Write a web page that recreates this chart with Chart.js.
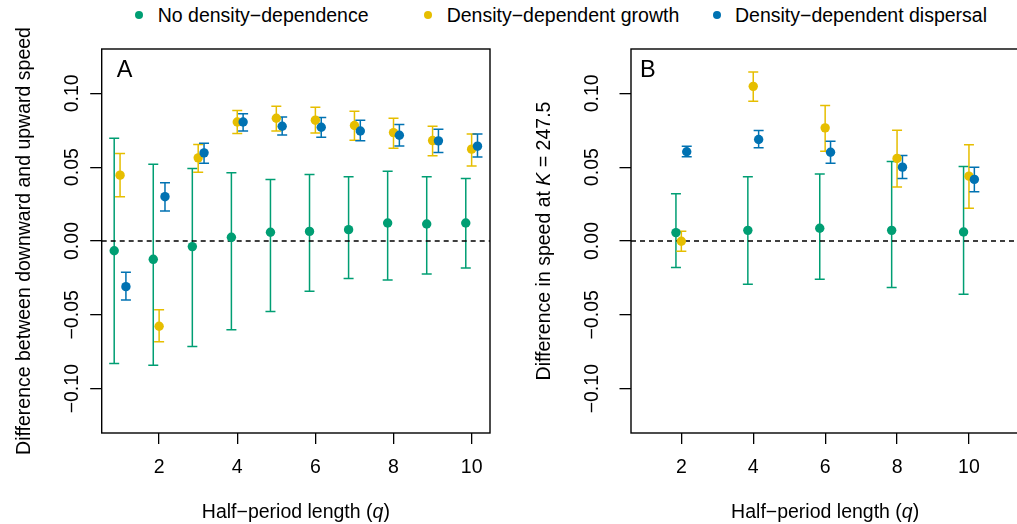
<!DOCTYPE html>
<html>
<head>
<meta charset="utf-8">
<script src="https://cdn.jsdelivr.net/npm/chart.js@4.4.1/dist/chart.umd.min.js"></script>
<style>
  html, body { margin: 0; padding: 0; background: #fff; overflow: hidden; }
  body { width: 1017px; height: 524px; position: relative; font-family: 'Liberation Sans', Arial, sans-serif; }
  #panelA { position: absolute; left: 0; top: 0; }
  #panelB { position: absolute; left: 510px; top: 0; }
  .key { position: absolute; top: 4px; font-size: 19.5px; line-height: 22px; color: #000; white-space: nowrap; }
  .key i { position: absolute; left: -22.5px; top: 7px; width: 8px; height: 8px; border-radius: 50%; }
</style>
</head>
<body>
<div class="key" style="left:157.7px"><i style="background:#009E73"></i>No density−dependence</div>
<div class="key" style="left:446.7px"><i style="background:#E6BE00"></i>Density−dependent growth</div>
<div class="key" style="left:735px"><i style="background:#0072B2"></i>Density−dependent dispersal</div>
<canvas id="panelA" width="510" height="524"></canvas>
<canvas id="panelB" width="512" height="524"></canvas>
<script>
// tick marks and labels
const xTicks = [2, 4, 6, 8, 10];
const yTicks = [-0.10, -0.05, 0.00, 0.05, 0.10];
const yTickLabels = ['−0.10', '−0.05', '0.00', '0.05', '0.10'];

// panel A: difference between downward and upward speed
const qA = [1, 2, 3, 4, 5, 6, 7, 8, 9, 10];
const noDD_A    = [-0.0066, -0.0124, -0.0038, 0.0025, 0.0059, 0.0065, 0.0077, 0.0122, 0.0115, 0.0122];
const noDD_A_lo = [-0.0829, -0.0842, -0.0714, -0.0601, -0.0477, -0.0340, -0.0254, -0.0264, -0.0223, -0.0182];
const noDD_A_hi = [0.0696, 0.0520, 0.0491, 0.0462, 0.0417, 0.0450, 0.0435, 0.0473, 0.0435, 0.0423];
const growth_A    = [0.0446, -0.0577, 0.0563, 0.0806, 0.0831, 0.0818, 0.0782, 0.0734, 0.0680, 0.0622];
const growth_A_lo = [0.0300, -0.0682, 0.0466, 0.0728, 0.0745, 0.0732, 0.0682, 0.0628, 0.0577, 0.0507];
const growth_A_hi = [0.0592, -0.0466, 0.0653, 0.0883, 0.0912, 0.0905, 0.0878, 0.0831, 0.0777, 0.0725];
const disp_A    = [-0.0309, 0.0300, 0.0597, 0.0806, 0.0777, 0.0770, 0.0745, 0.0716, 0.0678, 0.0642];
const disp_A_lo = [-0.0399, 0.0203, 0.0527, 0.0745, 0.0718, 0.0703, 0.0678, 0.0644, 0.0599, 0.0568];
const disp_A_hi = [-0.0212, 0.0394, 0.0662, 0.0862, 0.0840, 0.0836, 0.0818, 0.0788, 0.0757, 0.0725];

// panel B: difference in speed at K = 247.5
const qB = [2, 4, 6, 8, 10];
const noDD_B    = [0.0057, 0.0072, 0.0086, 0.0072, 0.0061];
const noDD_B_lo = [-0.0180, -0.0293, -0.0259, -0.0315, -0.0360];
const noDD_B_hi = [0.0320, 0.0435, 0.0453, 0.0539, 0.0505];
const growth_B    = [-0.0002, 0.1047, 0.0766, 0.0559, 0.0439];
const growth_B_lo = [-0.0070, 0.0946, 0.0608, 0.0365, 0.0221];
const growth_B_hi = [0.0066, 0.1144, 0.0917, 0.0750, 0.0651];
const disp_B    = [0.0604, 0.0687, 0.0601, 0.0500, 0.0417];
const disp_B_lo = [0.0570, 0.0631, 0.0527, 0.0424, 0.0334];
const disp_B_hi = [0.0642, 0.0748, 0.0676, 0.0579, 0.0500];

const colNo = '#009E73';
const colGrowth = '#E6BE00';
const colDisp = '#0072B2';
const dodge = 0.15; // side-by-side shift of the three series
const FONT = "'Liberation Sans', Arial, sans-serif";
const FS = 19.5;

function series(q, off, vals, lo, hi, color, order) {
  return {
    type: 'scatter',
    data: q.map((v, i) => ({ x: v + off, y: vals[i] })),
    errLo: lo,
    errHi: hi,
    backgroundColor: color,
    borderColor: color,
    borderWidth: 0,
    pointRadius: 4.7,
    pointHoverRadius: 4.7,
    order: order
  };
}

// draw rotated / mixed italic text centred on a point
function drawRich(ctx, parts, cx, cy, rot) {
  ctx.save();
  ctx.translate(cx, cy);
  ctx.rotate(rot);
  ctx.textBaseline = 'middle';
  ctx.textAlign = 'left';
  ctx.fillStyle = '#000';
  const fontOf = p => (p.italic ? 'italic ' : '') + FS + 'px ' + FONT;
  let total = 0;
  parts.forEach(p => { ctx.font = fontOf(p); total += ctx.measureText(p.text).width; });
  let x = -total / 2;
  parts.forEach(p => {
    ctx.font = fontOf(p);
    ctx.fillText(p.text, x, 0);
    x += ctx.measureText(p.text).width;
  });
  ctx.restore();
}

const errorBars = {
  id: 'errorBars',
  beforeDatasetsDraw(chart) {
    const ctx = chart.ctx, xs = chart.scales.x, ys = chart.scales.y;
    ctx.save();
    ctx.lineWidth = 1.5;
    chart.data.datasets.forEach(ds => {
      if (!ds.errLo) return;
      ctx.strokeStyle = ds.borderColor;
      ds.data.forEach((p, i) => {
        const px = xs.getPixelForValue(p.x);
        const yLo = ys.getPixelForValue(ds.errLo[i]);
        const yHi = ys.getPixelForValue(ds.errHi[i]);
        ctx.beginPath();
        ctx.moveTo(px, yLo); ctx.lineTo(px, yHi);
        ctx.moveTo(px - 5, yLo); ctx.lineTo(px + 5, yLo);
        ctx.moveTo(px - 5, yHi); ctx.lineTo(px + 5, yHi);
        ctx.stroke();
      });
    });
    ctx.restore();
  }
};

const frame = {
  id: 'frame',
  afterDraw(chart, args, opts) {
    const ctx = chart.ctx, a = chart.chartArea;
    ctx.save();
    ctx.strokeStyle = '#000';
    ctx.lineWidth = 1.4;
    ctx.strokeRect(a.left, a.top, a.right - a.left, a.bottom - a.top);
    ctx.fillStyle = '#000';
    ctx.font = '23.5px ' + FONT;
    ctx.textBaseline = 'alphabetic';
    ctx.fillText(opts.letter, a.left + opts.letterDx, a.top + 28.3);
    ctx.restore();
    drawRich(ctx, opts.xTitle, (a.left + a.right) / 2, a.bottom + 80, 0);
    drawRich(ctx, opts.yTitle, a.left - opts.yTitleGap, (a.top + a.bottom) / 2, -Math.PI / 2);
  }
};

// widest y tick label, used to centre the rotated labels
const mctx = document.createElement('canvas').getContext('2d');
mctx.font = FS + 'px ' + FONT;
const widestY = Math.max(...yTickLabels.map(t => mctx.measureText(t).width));

function makePanel(id, p) {
  const tickLen = 11.5;
  return new Chart(document.getElementById(id), {
    data: {
      datasets: [
        series(p.q, -dodge, p.no, p.noLo, p.noHi, colNo, 2),
        series(p.q, 0, p.gr, p.grLo, p.grHi, colGrowth, 1),
        series(p.q, dodge, p.di, p.diLo, p.diHi, colDisp, 0),
        {
          type: 'line',
          data: [{ x: p.xMin, y: 0 }, { x: p.xMax, y: 0 }],
          borderColor: '#000',
          borderWidth: 1.5,
          borderDash: [5, 4],
          pointRadius: 0,
          order: 3
        }
      ]
    },
    options: {
      responsive: false,
      animation: false,
      events: [],
      layout: { autoPadding: false, padding: { left: 0, top: 49, right: p.padRight, bottom: 0 } },
      plugins: {
        legend: { display: false },
        tooltip: { enabled: false },
        frame: { letter: p.letter, letterDx: p.letterDx, xTitle: p.xTitle, yTitle: p.yTitle, yTitleGap: p.yTitleGap }
      },
      scales: {
        x: {
          type: 'linear',
          position: 'bottom',
          min: p.xMin,
          max: p.xMax,
          afterBuildTicks: s => { s.ticks = xTicks.map(v => ({ value: v })); },
          afterFit: s => { s.height = 91; },
          grid: { drawOnChartArea: false, tickLength: 11, color: '#000', lineWidth: 1.3 },
          border: { display: false },
          ticks: { padding: 12.3, color: '#000', font: { family: FONT, size: FS }, minRotation: 0, maxRotation: 0, autoSkip: false }
        },
        y: {
          type: 'linear',
          position: 'left',
          min: -0.13,
          max: 0.13,
          afterBuildTicks: s => { s.ticks = yTicks.map(v => ({ value: v })); },
          afterFit: s => { s.width = p.yAxisW; },
          grid: { drawOnChartArea: false, tickLength: tickLen, color: '#000', lineWidth: 1.3 },
          border: { display: false },
          ticks: {
            minRotation: 90,
            maxRotation: 90,
            crossAlign: 'center',
            padding: p.labelGap - tickLen - widestY / 2,
            color: '#000',
            font: { family: FONT, size: FS },
            autoSkip: false,
            callback: (v, i) => yTickLabels[i]
          }
        }
      }
    },
    plugins: [errorBars, frame]
  });
}

makePanel('panelA', {
  q: qA,
  no: noDD_A, noLo: noDD_A_lo, noHi: noDD_A_hi,
  gr: growth_A, grLo: growth_A_lo, grHi: growth_A_hi,
  di: disp_A, diLo: disp_A_lo, diHi: disp_A_hi,
  xMin: 0.53, xMax: 10.47,
  yAxisW: 101.7, padRight: 20, labelGap: 28.9,
  letter: 'A', letterDx: 15,
  xTitle: [{ text: 'Half−period length (' }, { text: 'q', italic: true }, { text: ')' }],
  yTitle: [{ text: 'Difference between downward and upward speed' }],
  yTitleGap: 76.7
});

makePanel('panelB', {
  q: qB,
  no: noDD_B, noLo: noDD_B_lo, noHi: noDD_B_hi,
  gr: growth_B, grLo: growth_B_lo, grHi: growth_B_hi,
  di: disp_B, diLo: disp_B_lo, diHi: disp_B_hi,
  xMin: 0.6, xMax: 11.4,
  yAxisW: 121, padRight: 2.7, labelGap: 38.5,
  letter: 'B', letterDx: 9,
  xTitle: [{ text: 'Half−period length (' }, { text: 'q', italic: true }, { text: ')' }],
  yTitle: [{ text: 'Difference in speed at ' }, { text: 'K', italic: true }, { text: ' = 247.5' }],
  yTitleGap: 86
});
</script>
</body>
</html>
